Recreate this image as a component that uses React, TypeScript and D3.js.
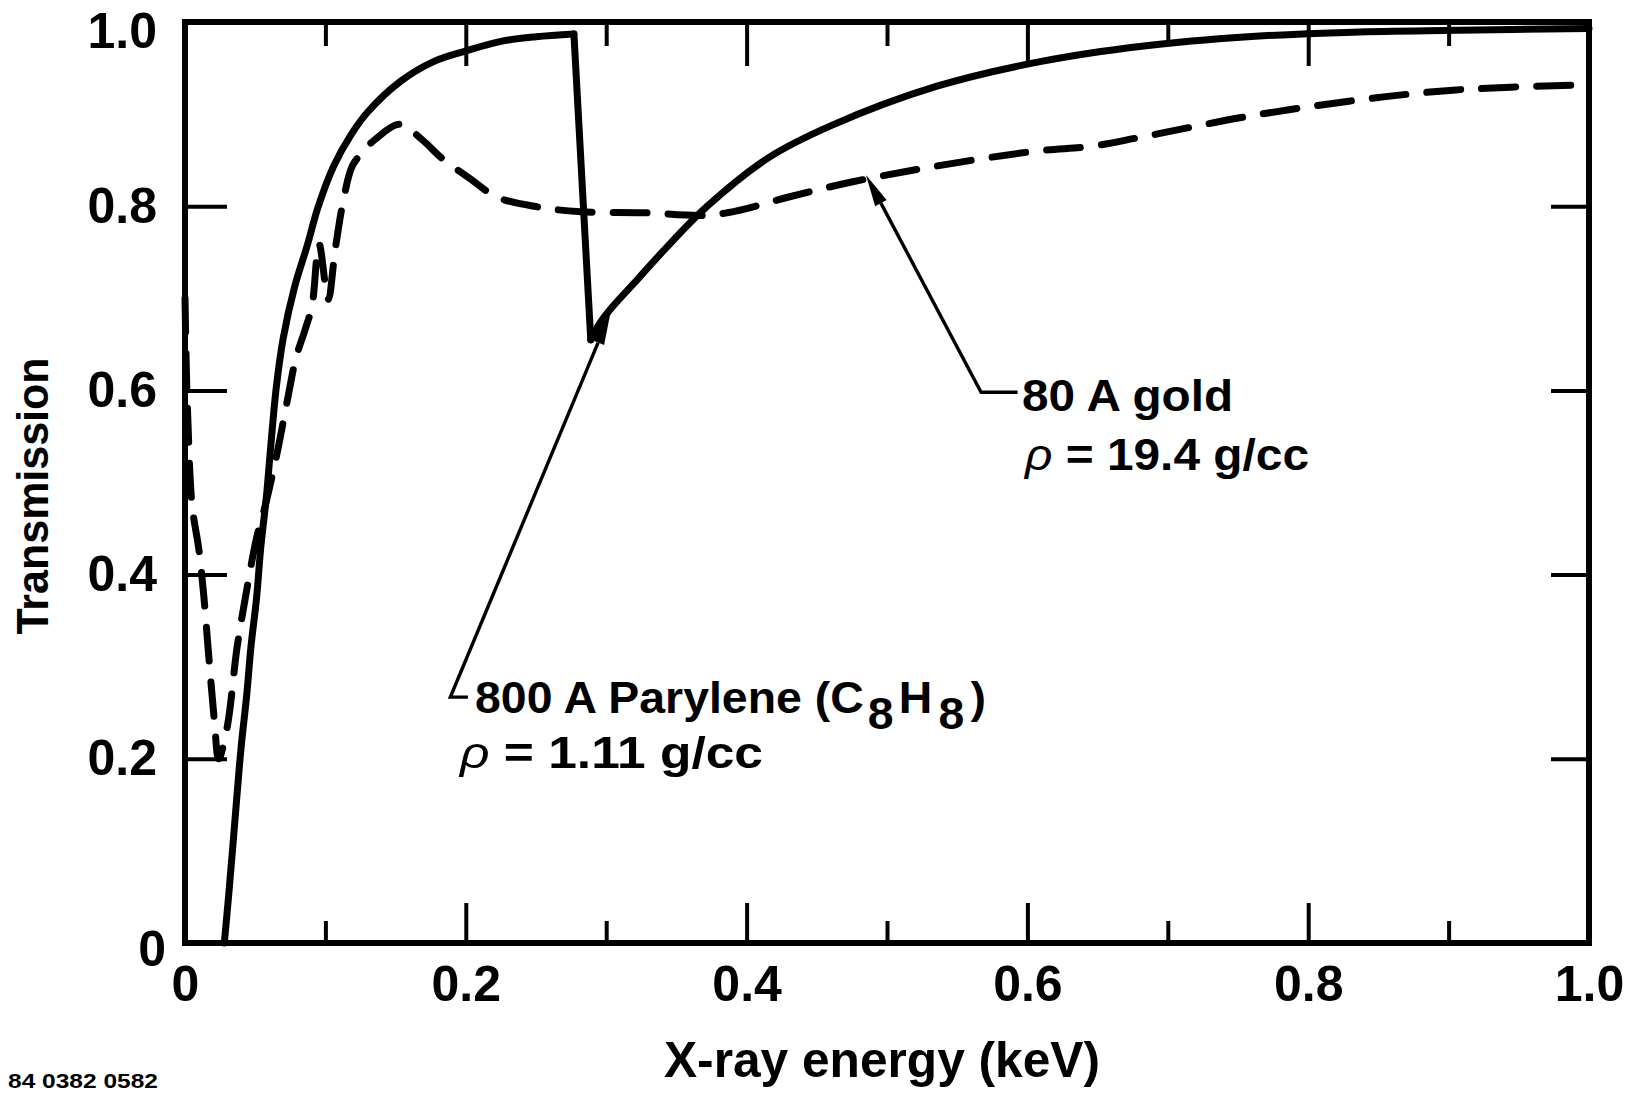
import React, { useEffect, useRef } from 'react';
import * as d3 from 'd3';

// 80 A gold filter, solid curve (X-ray energy in keV, transmission)
const goldEnergy = [0.028, 0.031, 0.034, 0.037, 0.040, 0.044, 0.047, 0.051, 0.054, 0.058, 0.061, 0.065, 0.070, 0.078, 0.087, 0.095, 0.106, 0.118, 0.130, 0.153, 0.177, 0.201, 0.225, 0.250, 0.277,
  0.289,
  0.295, 0.304, 0.322, 0.341, 0.372, 0.416, 0.461, 0.535, 0.609, 0.683, 0.757, 0.832, 0.906, 1.0];
const goldTrans = [0, 0.05, 0.104, 0.16, 0.213, 0.27, 0.322, 0.375, 0.43, 0.485, 0.538, 0.603, 0.657, 0.712, 0.757, 0.80, 0.844, 0.877, 0.902, 0.935, 0.957, 0.969, 0.979, 0.984, 0.987,
  0.655,
  0.672, 0.69, 0.72, 0.752, 0.80, 0.853, 0.888, 0.930, 0.957, 0.974, 0.984, 0.989, 0.991, 0.993];
// index of the edge peak and of the bottom of the drop
const goldEdge = [24, 25];

// 800 A Parylene, dashed curve
const paryEnergy = [0.000, 0.001, 0.002, 0.005, 0.010, 0.0135, 0.017, 0.021, 0.024, 0.030, 0.037, 0.043, 0.051, 0.058, 0.066, 0.073, 0.079, 0.086, 0.0905, 0.0955, 0.102, 0.107, 0.113, 0.119, 0.126, 0.135, 0.153, 0.169, 0.183, 0.203, 0.222, 0.252, 0.282, 0.326, 0.370, 0.393, 0.430, 0.474, 0.533, 0.607, 0.645, 0.681, 0.755, 0.829, 0.903, 1.0];
const paryTrans = [0.70, 0.62, 0.57, 0.476, 0.426, 0.375, 0.31, 0.24, 0.20, 0.234, 0.32, 0.375, 0.44, 0.48, 0.535, 0.59, 0.635, 0.668, 0.692, 0.759, 0.699, 0.753, 0.808, 0.843, 0.858, 0.872, 0.889, 0.872, 0.852, 0.83, 0.81, 0.799, 0.794, 0.793, 0.79, 0.795, 0.81, 0.826, 0.843, 0.86, 0.865, 0.875, 0.897, 0.914, 0.926, 0.932];

const xMajorTicks = [0, 0.2, 0.4, 0.6, 0.8, 1.0];
const xMinorTicks = [0.1, 0.3, 0.5, 0.7, 0.9];
const xTickLabels = ['0', '0.2', '0.4', '0.6', '0.8', '1.0'];
const yTicks = [0, 0.2, 0.4, 0.6, 0.8, 1.0];
const yTickLabels = ['0', '0.2', '0.4', '0.6', '0.8', '1.0'];

// leader lines, in data units: arrow tip first, then elbow, then end at the label
const goldLeader: [number, number][] = [[0.485, 0.834], [0.567, 0.598], [0.593, 0.598]];
const paryLeader: [number, number][] = [[0.303, 0.684], [0.189, 0.267], [0.2015, 0.267]];

const xTitle = 'X-ray energy (keV)';
const yTitle = 'Transmission';
const figureId = '84 0382 0582';

const WIDTH = 1627;
const HEIGHT = 1093;
const FONT = "'Liberation Sans', Arial, Helvetica, sans-serif";

export default function App() {
  const ref = useRef<SVGSVGElement>(null);

  useEffect(() => {
    const svg = d3.select(ref.current);
    svg.selectAll('*').remove();

    svg.append('rect').attr('width', WIDTH).attr('height', HEIGHT).attr('fill', '#fff');

    const x = d3.scaleLinear().domain([0, 1]).range([185, 1589]);
    const y = d3.scaleLinear().domain([0, 1]).range([943, 22]);

    const styleAxis = (g: any) => {
      g.select('.domain').remove();
      g.selectAll('line').attr('stroke', '#000').attr('stroke-width', 4);
      g.selectAll('text')
        .attr('fill', '#000')
        .attr('font-family', FONT)
        .attr('font-weight', 'bold')
        .attr('font-size', 50);
    };

    // bottom
    svg.append('g').attr('transform', `translate(0,${y(0)})`)
      .call(d3.axisBottom(x).tickValues(xMajorTicks).tickSize(-40).tickPadding(22)
        .tickFormat((d, i) => xTickLabels[i]))
      .call(styleAxis);
    svg.append('g').attr('transform', `translate(0,${y(0)})`)
      .call(d3.axisBottom(x).tickValues(xMinorTicks).tickSize(-22).tickFormat(() => ''))
      .call(styleAxis);
    // top
    svg.append('g').attr('transform', `translate(0,${y(1)})`)
      .call(d3.axisTop(x).tickValues(xMajorTicks.slice(1, -1)).tickSize(-44).tickFormat(() => ''))
      .call(styleAxis);
    svg.append('g').attr('transform', `translate(0,${y(1)})`)
      .call(d3.axisTop(x).tickValues(xMinorTicks).tickSize(-24).tickFormat(() => ''))
      .call(styleAxis);
    // left
    const gL = svg.append('g').attr('transform', `translate(${x(0)},0)`)
      .call(d3.axisLeft(y).tickValues(yTicks).tickSize(-42).tickPadding(28)
        .tickFormat((d, i) => yTickLabels[i]))
      .call(styleAxis);
    gL.selectAll('text').filter((d: any) => d === 0).attr('transform', 'translate(9,6)');
    gL.selectAll('text').filter((d: any) => d === 1).attr('transform', 'translate(0,9)');
    // right
    svg.append('g').attr('transform', `translate(${x(1)},0)`)
      .call(d3.axisRight(y).tickValues(yTicks.slice(1, -1)).tickSize(-38).tickFormat(() => ''))
      .call(styleAxis);

    // frame
    svg.append('rect')
      .attr('x', x(0)).attr('y', y(1))
      .attr('width', x(1) - x(0)).attr('height', y(0) - y(1))
      .attr('fill', 'none').attr('stroke', '#000').attr('stroke-width', 6);

    const line = d3.line<[number, number]>().x(d => x(d[0])).y(d => y(d[1]));

    // gold: smooth rise, sharp edge drop, smooth rise
    const gold: [number, number][] = goldEnergy.map((e, i) => [e, goldTrans[i]]);
    const goldParts: [[number, number][], any][] = [
      [gold.slice(0, goldEdge[0] + 1), d3.curveCatmullRom.alpha(0.5)],
      [gold.slice(goldEdge[0], goldEdge[1] + 1), d3.curveLinear],
      [gold.slice(goldEdge[1]), d3.curveCatmullRom.alpha(0.5)],
    ];
    goldParts.forEach(([pts, curve]) => {
      svg.append('path')
        .datum(pts)
        .attr('fill', 'none')
        .attr('stroke', '#000')
        .attr('stroke-width', 7)
        .attr('stroke-linejoin', 'miter')
        .attr('stroke-linecap', 'round')
        .attr('d', line.curve(curve));
    });

    // parylene dashed
    const pary: [number, number][] = paryEnergy.map((e, i) => [e, paryTrans[i]]);
    svg.append('path')
      .datum(pary)
      .attr('fill', 'none')
      .attr('stroke', '#000')
      .attr('stroke-width', 7)
      .attr('stroke-linecap', 'round')
      .attr('stroke-dasharray', '34 21')
      .attr('d', line.curve(d3.curveCatmullRom.alpha(0.5)));

    // leader lines with arrowheads
    const leader = (pts: [number, number][]) => {
      const p = pts.map(([e, t]) => [x(e), y(t)] as [number, number]);
      const [tx, ty] = p[0];
      const [bx, by] = p[1];
      const ang = Math.atan2(ty - by, tx - bx);
      const L = 32, W = 6.5;
      const cx = tx - L * Math.cos(ang), cy = ty - L * Math.sin(ang);
      const nx = -Math.sin(ang), ny = Math.cos(ang);
      svg.append('path')
        .attr('d', d3.line()([[cx, cy], ...p.slice(1)]))
        .attr('fill', 'none').attr('stroke', '#000').attr('stroke-width', 3.4)
        .attr('stroke-linejoin', 'miter');
      svg.append('path')
        .attr('d', d3.line()([[tx, ty], [cx + nx * W, cy + ny * W], [cx - nx * W, cy - ny * W]]) + 'Z')
        .attr('fill', '#000');
    };
    leader(goldLeader);
    leader(paryLeader);

    const label = (xp: number, yp: number, size: number, len: number) =>
      svg.append('text')
        .attr('x', xp).attr('y', yp)
        .attr('font-family', FONT).attr('font-weight', 'bold').attr('font-size', size)
        .attr('fill', '#000')
        .attr('textLength', len).attr('lengthAdjust', 'spacingAndGlyphs');

    // gold annotation
    label(1022, 411, 45, 211).text('80 A gold');
    const g2 = label(1025, 470, 45, 284);
    g2.append('tspan').attr('font-weight', 'normal').attr('font-style', 'italic').text('ρ');
    g2.append('tspan').text(' = 19.4 g/cc');

    // parylene annotation
    const p1 = label(475, 713, 45, 511);
    p1.append('tspan').text('800 A Parylene (C');
    p1.append('tspan').attr('dx', 4).attr('dy', 16).text('8');
    p1.append('tspan').attr('dx', 5).attr('dy', -16).text('H');
    p1.append('tspan').attr('dx', 6).attr('dy', 16).text('8');
    p1.append('tspan').attr('dx', 6).attr('dy', -16).text(')');
    const p2 = label(460, 768, 45, 303);
    p2.append('tspan').attr('font-weight', 'normal').attr('font-style', 'italic').text('ρ');
    p2.append('tspan').text(' = 1.11 g/cc');

    // axis titles
    label(882, 1077, 50, 436).attr('text-anchor', 'middle').text(xTitle);
    label(0, 0, 44, 277).attr('text-anchor', 'middle')
      .attr('transform', 'translate(48,496) rotate(-90)').text(yTitle);

    // figure number at the bottom-left edge
    label(8, 1088, 20, 150).text(figureId);
  }, []);

  return (
    <svg
      ref={ref}
      width={WIDTH}
      height={HEIGHT}
      style={{ position: 'absolute', left: 0, top: 0, display: 'block' }}
    />
  );
}
